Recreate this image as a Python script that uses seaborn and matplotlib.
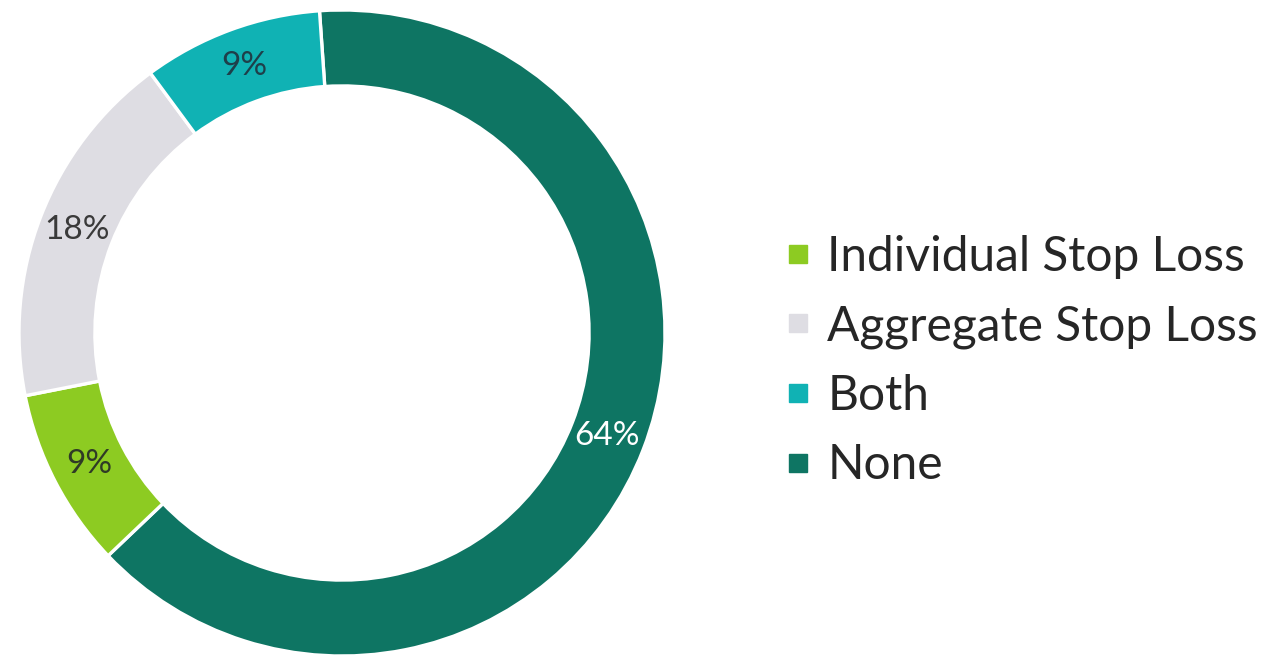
import matplotlib
matplotlib.use("Agg")
import matplotlib.pyplot as plt
from matplotlib.lines import Line2D
import seaborn as sns

# Share of respondents by stop-loss coverage type
categories = ["None", "Individual Stop Loss", "Aggregate Stop Loss", "Both"]
shares = [64, 9, 18, 9]
label_text = ["64%", "9%", "18%", "9%"]
legend_order = ["Individual Stop Loss", "Aggregate Stop Loss", "Both", "None"]

sns.set_theme(style="white")
plt.rcParams["font.family"] = ["Lato", "DejaVu Sans"]

palette = {
    "None": "#0E7563",
    "Individual Stop Loss": "#8DCB22",
    "Aggregate Stop Loss": "#DEDDE3",
    "Both": "#10B2B4",
}
label_colors = {
    "None": "#FFFFFF",
    "Individual Stop Loss": "#2F3A26",
    "Aggregate Stop Loss": "#3A3A3A",
    "Both": "#1E3F4A",
}
colors = [palette[c] for c in categories]

W, H = 1269, 662
fig = plt.figure(figsize=(W / 100, H / 100), dpi=100)
fig.patch.set_facecolor("white")

cx, cy, r = 342, 333, 323
ax = fig.add_axes([(cx - r) / W, (H - cy - r) / H, 2 * r / W, 2 * r / H])

wedges, texts, autotexts = ax.pie(
    shares,
    colors=colors,
    startangle=94,
    counterclock=False,
    radius=1.0,
    autopct="%.0f%%",
    pctdistance=0.88,
    wedgeprops=dict(width=0.235, edgecolor="white", linewidth=2.4),
)
for cat, t, txt in zip(categories, autotexts, label_text):
    t.set_text(txt)
    t.set_color(label_colors[cat])
    t.set_fontsize(24)
ax.set_xlim(-1.0, 1.0)
ax.set_ylim(-1.0, 1.0)
ax.set_aspect("equal")
ax.axis("off")

handles = [
    Line2D([0], [0], marker="s", linestyle="none", markersize=13,
           markerfacecolor=palette[c], markeredgecolor=palette[c])
    for c in legend_order
]
fig.legend(
    handles, legend_order,
    loc="center left",
    bbox_to_anchor=(784 / W, 1 - 361 / H),
    frameon=False,
    fontsize=34.5,
    labelcolor="#262626",
    handlelength=0.6,
    handletextpad=0.3,
    labelspacing=0.53,
    borderpad=0,
    borderaxespad=0,
)

fig.savefig("out.png", dpi=100, facecolor="white")
